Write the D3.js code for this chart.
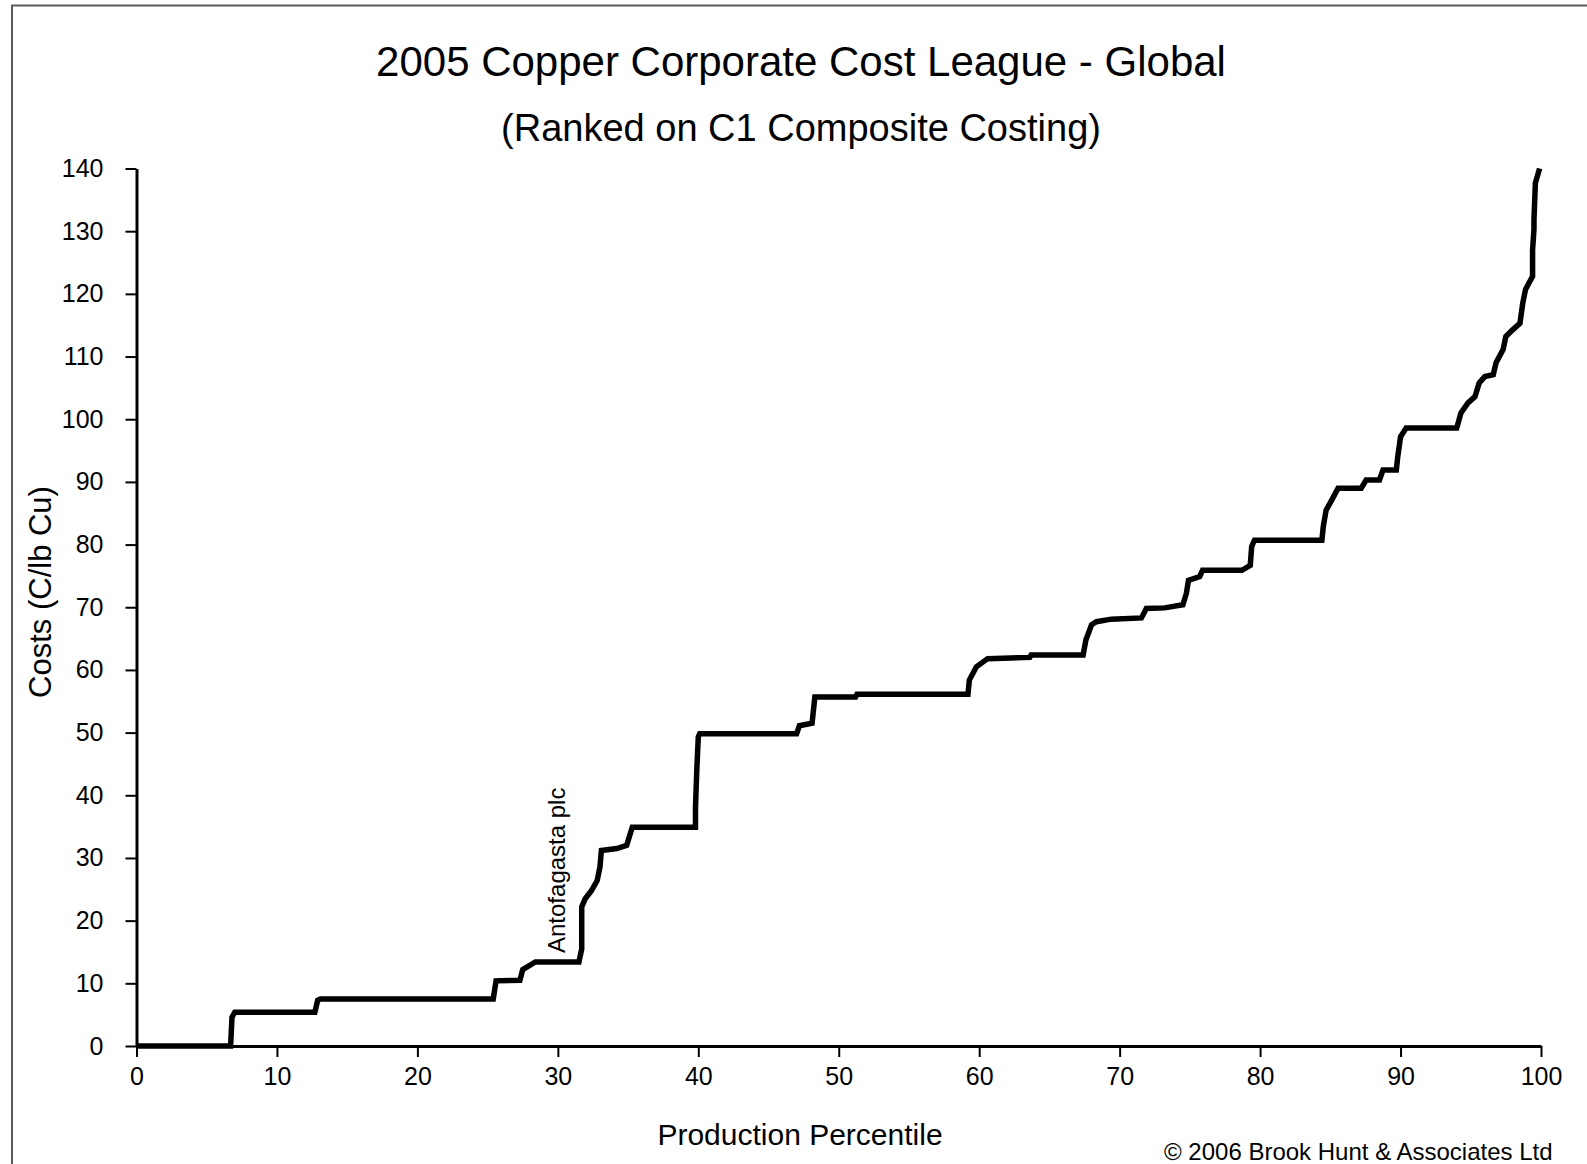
<!DOCTYPE html>
<html>
<head>
<meta charset="utf-8">
<script src="https://cdn.jsdelivr.net/npm/d3@7"></script>
<style>
  html, body { margin: 0; padding: 0; background: #fff; }
  svg { display: block; }
  text { font-family: "Liberation Sans", Arial, sans-serif; fill: #000; }
</style>
</head>
<body>
<svg id="chart" width="1587" height="1164"></svg>
<script>
// ---- Data ----
const titleText = "2005 Copper Corporate Cost League - Global";
const subtitleText = "(Ranked on C1 Composite Costing)";
const xAxisTitle = "Production Percentile";
const yAxisTitle = "Costs (C/lb Cu)";
const annotationText = "Antofagasta plc";
const annotationAt = [31.3, 13.4];
const copyrightText = "\u00A9 2006 Brook Hunt & Associates Ltd";

const xTicks = [0, 10, 20, 30, 40, 50, 60, 70, 80, 90, 100];
const yTicks = [0, 10, 20, 30, 40, 50, 60, 70, 80, 90, 100, 110, 120, 130, 140];

const percentile = [
  0, 6.7, 6.8, 7.0, 12.7, 12.9, 13.1, 25.4, 25.6, 27.3, 27.5, 28.4, 31.5, 31.7, 31.7,
  31.95, 32.4, 32.8, 33.0, 33.1, 34.2, 34.9, 35.3, 39.8, 39.8, 39.9, 40.0, 40.1, 47.0,
  47.2, 48.1, 48.3, 51.2, 51.3, 59.2, 59.3, 59.8, 60.6, 63.6, 63.7, 67.4, 67.6, 68.0,
  68.35, 69.4, 71.55, 71.9, 73.2, 74.5, 74.75, 74.9, 75.7, 75.9, 78.7, 79.3, 79.4, 79.6,
  84.4, 84.5, 84.7, 85.1, 85.55, 87.2, 87.55, 88.5, 88.75, 89.7, 89.8, 90.0, 90.4, 94.0,
  94.3, 94.8, 95.3, 95.6, 96.0, 96.6, 96.8, 97.3, 97.5, 98.0, 98.5, 98.7, 98.9, 99.4,
  99.4, 99.5, 99.5, 99.6, 99.9
];
const cost = [
  0, 0, 4.6, 5.4, 5.4, 7.3, 7.5, 7.5, 10.4, 10.5, 12.2, 13.4, 13.4, 15.5, 22.2,
  23.5, 24.8, 26.4, 28.6, 31.2, 31.5, 32.0, 34.9, 34.9, 38.1, 44.5, 49.3, 49.8, 49.8,
  51.1, 51.5, 55.7, 55.7, 56.1, 56.1, 58.4, 60.5, 61.8, 62.0, 62.4, 62.4, 64.8, 67.2,
  67.7, 68.1, 68.3, 69.8, 69.9, 70.4, 72.2, 74.3, 74.9, 75.9, 75.9, 76.7, 79.7, 80.7,
  80.7, 82.9, 85.5, 87.1, 89.0, 89.0, 90.3, 90.3, 91.9, 91.9, 94.0, 97.2, 98.6, 98.6,
  101.0, 102.6, 103.6, 105.8, 106.8, 107.1, 109.0, 111.1, 113.2, 114.3, 115.3, 118.5, 120.7, 122.8,
  127.0, 130.3, 131.9, 137.7, 140.0
];

// ---- Layout ----
const svg = d3.select("#chart");

// outer frame (top and left visible; right/bottom run off the picture)
svg.append("rect")
  .attr("x", 12).attr("y", 5.5)
  .attr("width", 1700).attr("height", 1300)
  .attr("fill", "#fff")
  .attr("stroke", "#5a5a5a").attr("stroke-width", 2);

const x = d3.scaleLinear().domain([0, 100]).range([136.5, 1541]);
const y = d3.scaleLinear().domain([0, 140]).range([1046, 168.5]);

// Title
svg.append("text")
  .attr("x", 801).attr("y", 76)
  .attr("text-anchor", "middle")
  .style("font-size", "42px")
  .text(titleText);
svg.append("text")
  .attr("x", 801).attr("y", 141)
  .attr("text-anchor", "middle")
  .style("font-size", "38px")
  .text(subtitleText);

// Axes
const yAxis = d3.axisLeft(y).tickValues(yTicks).tickSize(11).tickSizeOuter(0).tickPadding(22)
  .tickFormat(d3.format("d"));
const xAxis = d3.axisBottom(x).tickValues(xTicks).tickSize(11).tickSizeOuter(0).tickPadding(10)
  .tickFormat(d3.format("d"));

const gy = svg.append("g").attr("transform", `translate(${x(0)},0)`).call(yAxis);
const gx = svg.append("g").attr("transform", `translate(0,${y(0)})`).call(xAxis);

[gx, gy].forEach(g => {
  g.select(".domain").attr("stroke", "#000").attr("stroke-width", 3);
  g.selectAll(".tick line").attr("stroke", "#000").attr("stroke-width", 2);
  g.selectAll(".tick text")
    .style("font-size", "25px")
    .style("font-family", "'Liberation Sans', Arial, sans-serif")
    .attr("fill", "#111");
});

// Axis titles
svg.append("text")
  .attr("x", 800).attr("y", 1145)
  .attr("text-anchor", "middle")
  .style("font-size", "30px")
  .text(xAxisTitle);
svg.append("text")
  .attr("transform", `translate(51,592) rotate(-90)`)
  .attr("text-anchor", "middle")
  .style("font-size", "31px")
  .text(yAxisTitle);

// Cost curve
const pts = percentile.map((p, i) => [p, cost[i]]);
const line = d3.line().x(d => x(d[0])).y(d => y(d[1]));
svg.append("path")
  .datum(pts)
  .attr("d", line)
  .attr("fill", "none")
  .attr("stroke", "#000")
  .attr("stroke-width", 5.5)
  .attr("stroke-linejoin", "miter")
  .attr("stroke-linecap", "butt");

// Annotation (rotated label beside the Antofagasta step)
svg.append("text")
  .attr("transform", `translate(${x(annotationAt[0]) - 11},${y(annotationAt[1]) - 9}) rotate(-90)`)
  .style("font-size", "24px")
  .text(annotationText);

// Copyright
svg.append("text")
  .attr("x", 1164).attr("y", 1160)
  .style("font-size", "24px")
  .text(copyrightText);
</script>
</body>
</html>
